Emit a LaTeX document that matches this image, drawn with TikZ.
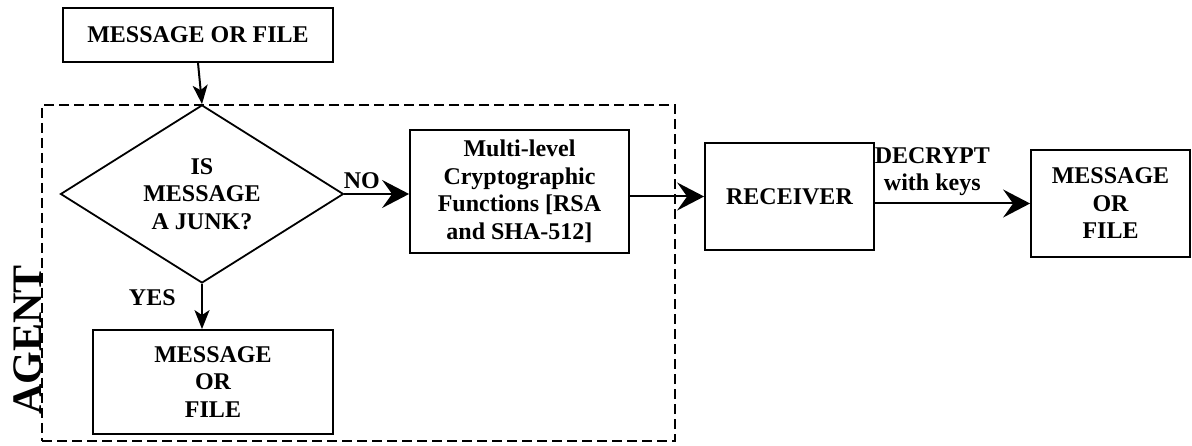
\documentclass[tikz,border=0pt]{standalone}
\usepackage{fontspec}
\setmainfont{Liberation Serif}
\usetikzlibrary{arrows.meta, shapes.geometric}

\begin{document}
\begin{tikzpicture}[x=1pt, y=-1pt, line width=1.8pt,
    font=\fontsize{24}{27.5}\selectfont\bfseries,
    box/.style={draw, rectangle, align=center, inner sep=0pt},
    bigarr/.style={-{Stealth[length=27pt, width=28pt, inset=10pt]}, line width=2pt},
    downarr/.style={-{Stealth[length=19pt, width=15pt, inset=5pt]}, line width=2pt}]
    \useasboundingbox (0,0) rectangle (1192,446);
    \node[draw, line width=1.4pt, dash pattern=on 10pt off 5pt, minimum width=633pt, minimum height=336pt] (agent) at (358.5,273) {};
    \node[rotate=90, font=\fontsize{42}{42}\selectfont\bfseries] (agentlabel) at (28,340) {AGENT};
    \node[box, minimum width=270pt, minimum height=54pt] (src) at (198,35) {MESSAGE OR FILE};
    \node[draw, diamond, aspect=1.6, inner sep=0pt, minimum width=283pt, minimum height=178pt, align=center] (junk) at (202,194) {IS\\MESSAGE\\A JUNK?};
    \node[box, minimum width=240pt, minimum height=104pt] (junkout) at (213,382) {MESSAGE\\OR\\FILE};
    \node[box, minimum width=219pt, minimum height=123pt] (crypto) at (519.5,191.5) {Multi-level\\Cryptographic\\Functions [RSA\\and SHA-512]};
    \node[box, minimum width=169pt, minimum height=107pt] (recv) at (789.5,196.5) {RECEIVER};
    \node[box, minimum width=159pt, minimum height=107pt] (dest) at (1110.5,203.5) {MESSAGE\\OR\\FILE};
    \draw[downarr] (src.south) -- (junk.north);
    \draw[bigarr] (junk.east) -- (junk.east -| crypto.west) node[pos=0.27, above=1pt] {NO};
    \draw[downarr] (junk.south) -- (junk.south |- junkout.north) node[pos=0.3, left=22pt] {YES};
    \draw[bigarr] (crypto.east |- recv) -- (recv.west);
    \draw[bigarr] (recv.east |- dest) -- (dest.west) node[pos=0.37, above=3pt, align=center] {DECRYPT\\with keys};
\end{tikzpicture}
\end{document}
